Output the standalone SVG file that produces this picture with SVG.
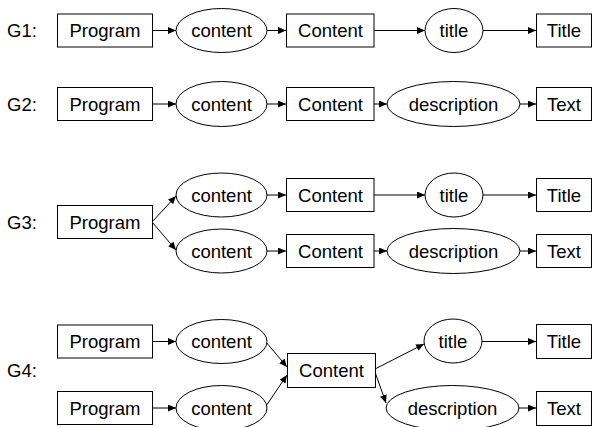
<svg xmlns="http://www.w3.org/2000/svg" width="593" height="427" viewBox="0 0 593 427">
  <style>
    .box { fill: #fff; stroke: #000; stroke-width: 1; }
    .ell { fill: #fff; stroke: #000; stroke-width: 1; }
    .lbl { font-family: "Liberation Sans", Arial, sans-serif; font-size: 18.5px; fill: #000; text-anchor: middle; }
    .gl { font-family: "Liberation Sans", Arial, sans-serif; font-size: 18.5px; fill: #000; }
    .edge { fill: none; stroke: #000; stroke-width: 1; marker-end: url(#arr); }
  </style>
  <defs>
    <marker id="arr" markerUnits="userSpaceOnUse" markerWidth="9" markerHeight="8" refX="8" refY="3.5" orient="auto">
      <path d="M0,0 L8,3.5 L0,7 Z" fill="#000"/>
    </marker>
  </defs>
  <rect width="593" height="427" fill="#fff"/>

  <!-- row labels -->
  <g id="labels">
    <text class="gl" x="7" y="37">G1:</text>
    <text class="gl" x="7" y="110.5">G2:</text>
    <text class="gl" x="7" y="228.5">G3:</text>
    <text class="gl" x="7" y="377">G4:</text>
  </g>

  <!-- connectors -->
  <g id="connectors">
    <!-- G1 -->
    <line class="edge" x1="152" y1="30.5" x2="176" y2="30.5"/>
    <line class="edge" x1="267" y1="30.5" x2="286" y2="30.5"/>
    <line class="edge" x1="374" y1="30.5" x2="425" y2="30.5"/>
    <line class="edge" x1="483" y1="30.5" x2="536" y2="30.5"/>
    <!-- G2 -->
    <line class="edge" x1="152" y1="104" x2="176" y2="104"/>
    <line class="edge" x1="267" y1="104" x2="286" y2="104"/>
    <line class="edge" x1="374" y1="104" x2="387" y2="104"/>
    <line class="edge" x1="520" y1="104" x2="536" y2="104"/>
    <!-- G3 -->
    <line class="edge" x1="152" y1="222" x2="176" y2="196"/>
    <line class="edge" x1="152" y1="222" x2="176" y2="250"/>
    <line class="edge" x1="267" y1="195" x2="286" y2="195"/>
    <line class="edge" x1="374" y1="195" x2="425" y2="195"/>
    <line class="edge" x1="483" y1="195" x2="536" y2="195"/>
    <line class="edge" x1="267" y1="251" x2="286" y2="251"/>
    <line class="edge" x1="374" y1="251" x2="387" y2="251"/>
    <line class="edge" x1="520" y1="251" x2="536" y2="251"/>
    <!-- G4 -->
    <line class="edge" x1="152" y1="341.5" x2="176" y2="341.5"/>
    <line class="edge" x1="152" y1="408" x2="176" y2="408"/>
    <line class="edge" x1="266" y1="342" x2="287" y2="367"/>
    <line class="edge" x1="266" y1="406" x2="287" y2="375"/>
    <line class="edge" x1="375" y1="369" x2="424" y2="344"/>
    <line class="edge" x1="375" y1="372" x2="386" y2="403"/>
    <line class="edge" x1="482" y1="341.5" x2="536" y2="341.5"/>
    <line class="edge" x1="519" y1="408" x2="536" y2="408"/>
  </g>

  <!-- G1 nodes -->
  <g id="g1-program"><rect class="box" x="57.5" y="14" width="95" height="33"/><text class="lbl" x="105" y="37">Program</text></g>
  <g id="g1-content"><ellipse class="ell" cx="221.5" cy="30.5" rx="45.5" ry="22"/><text class="lbl" x="221.5" y="37">content</text></g>
  <g id="g1-Content"><rect class="box" x="286.5" y="14" width="87.5" height="33"/><text class="lbl" x="330.5" y="37">Content</text></g>
  <g id="g1-title"><ellipse class="ell" cx="454" cy="30.5" rx="29" ry="22"/><text class="lbl" x="454" y="37">title</text></g>
  <g id="g1-Title"><rect class="box" x="536.5" y="14" width="55" height="33"/><text class="lbl" x="564" y="37">Title</text></g>

  <!-- G2 nodes -->
  <g id="g2-program"><rect class="box" x="57.5" y="87.5" width="95" height="33"/><text class="lbl" x="105" y="110.5">Program</text></g>
  <g id="g2-content"><ellipse class="ell" cx="221.5" cy="104" rx="45.5" ry="22.5"/><text class="lbl" x="221.5" y="110.5">content</text></g>
  <g id="g2-Content"><rect class="box" x="286.5" y="87.5" width="87.5" height="33"/><text class="lbl" x="330.5" y="110.5">Content</text></g>
  <g id="g2-description"><ellipse class="ell" cx="453.5" cy="104" rx="66.5" ry="22.5"/><text class="lbl" x="453.5" y="110.5">description</text></g>
  <g id="g2-Text"><rect class="box" x="536.5" y="87.5" width="55" height="33"/><text class="lbl" x="564" y="110.5">Text</text></g>

  <!-- G3 nodes -->
  <g id="g3-program"><rect class="box" x="57.5" y="205.5" width="95" height="33"/><text class="lbl" x="105" y="228.5">Program</text></g>
  <g id="g3-content-a"><ellipse class="ell" cx="221.5" cy="195" rx="45.5" ry="22"/><text class="lbl" x="221.5" y="201.5">content</text></g>
  <g id="g3-Content-a"><rect class="box" x="286.5" y="178.5" width="87.5" height="33"/><text class="lbl" x="330.5" y="201.5">Content</text></g>
  <g id="g3-title"><ellipse class="ell" cx="454" cy="195" rx="29" ry="22"/><text class="lbl" x="454" y="201.5">title</text></g>
  <g id="g3-Title"><rect class="box" x="536.5" y="178.5" width="55" height="33"/><text class="lbl" x="564" y="201.5">Title</text></g>
  <g id="g3-content-b"><ellipse class="ell" cx="221.5" cy="251" rx="45.5" ry="22"/><text class="lbl" x="221.5" y="257.5">content</text></g>
  <g id="g3-Content-b"><rect class="box" x="286.5" y="234.5" width="87.5" height="33"/><text class="lbl" x="330.5" y="257.5">Content</text></g>
  <g id="g3-description"><ellipse class="ell" cx="453.5" cy="251" rx="66.5" ry="22.5"/><text class="lbl" x="453.5" y="257.5">description</text></g>
  <g id="g3-Text"><rect class="box" x="536.5" y="234.5" width="55" height="33"/><text class="lbl" x="564" y="257.5">Text</text></g>

  <!-- G4 nodes -->
  <g id="g4-program-a"><rect class="box" x="57.5" y="325" width="95" height="33"/><text class="lbl" x="105" y="348">Program</text></g>
  <g id="g4-content-a"><ellipse class="ell" cx="221.5" cy="341.5" rx="45.5" ry="22"/><text class="lbl" x="221.5" y="348">content</text></g>
  <g id="g4-program-b"><rect class="box" x="57.5" y="391.5" width="95" height="33"/><text class="lbl" x="105" y="414.5">Program</text></g>
  <g id="g4-content-b"><ellipse class="ell" cx="221.5" cy="408" rx="45.5" ry="22.5"/><text class="lbl" x="221.5" y="414.5">content</text></g>
  <g id="g4-Content"><rect class="box" x="287.5" y="353.5" width="88" height="34"/><text class="lbl" x="331.5" y="377">Content</text></g>
  <g id="g4-title"><ellipse class="ell" cx="453" cy="341" rx="29" ry="22"/><text class="lbl" x="453" y="347.5">title</text></g>
  <g id="g4-Title"><rect class="box" x="536.5" y="324.5" width="55" height="34"/><text class="lbl" x="564" y="348">Title</text></g>
  <g id="g4-description"><ellipse class="ell" cx="452.5" cy="408" rx="66.5" ry="22.5"/><text class="lbl" x="452.5" y="414.5">description</text></g>
  <g id="g4-Text"><rect class="box" x="536.5" y="391.5" width="55" height="34"/><text class="lbl" x="564" y="414.5">Text</text></g>
</svg>
